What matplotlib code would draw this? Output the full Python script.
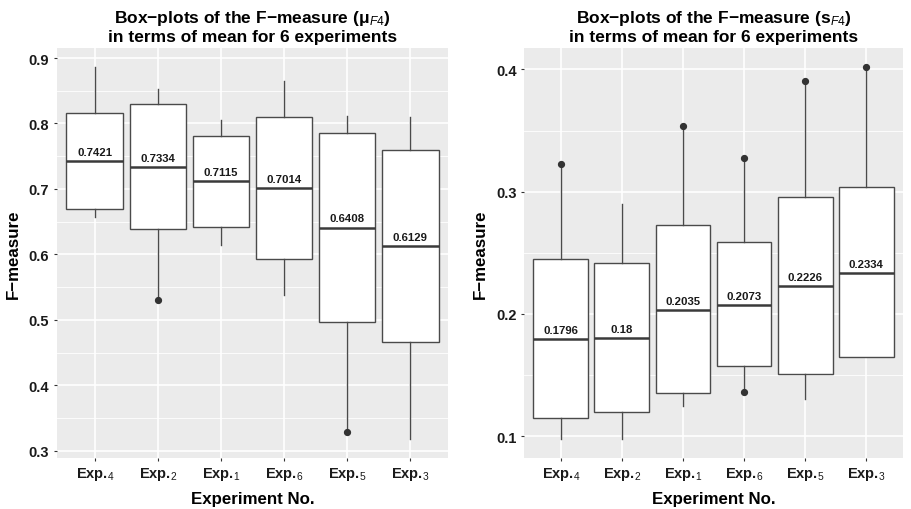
import numpy as np
import matplotlib.pyplot as plt

plt.rcParams['font.family'] = ['Liberation Sans', 'DejaVu Sans']
plt.rcParams['mathtext.fontset'] = 'custom'
plt.rcParams['mathtext.rm'] = 'Liberation Sans'
plt.rcParams['mathtext.it'] = 'Liberation Sans:italic'
plt.rcParams['mathtext.bf'] = 'Liberation Sans:bold'

exps = ['4', '2', '1', '6', '5', '3']

# left panel: mean F-measure
mu_whislo = [0.657, 0.530, 0.6145, 0.538, 0.3285, 0.318]
mu_q1     = [0.6695, 0.638, 0.642, 0.593, 0.4965, 0.4656]
mu_med    = [0.7421, 0.7334, 0.7115, 0.7014, 0.6408, 0.6129]
mu_q3     = [0.816, 0.830, 0.7814, 0.8095, 0.786, 0.760]
mu_whishi = [0.886, 0.853, 0.805, 0.865, 0.811, 0.8095]
mu_dots   = [[], [0.530], [], [], [0.3285], []]
mu_labels = ['0.7421', '0.7334', '0.7115', '0.7014', '0.6408', '0.6129']

# right panel: sd F-measure
s_whislo = [0.0978, 0.098, 0.125, 0.1365, 0.1305, 0.1648]
s_q1     = [0.115, 0.1196, 0.1357, 0.1572, 0.1512, 0.1648]
s_med    = [0.1796, 0.18, 0.2035, 0.2073, 0.2226, 0.2334]
s_q3     = [0.2452, 0.2414, 0.2725, 0.2589, 0.2954, 0.3036]
s_whishi = [0.3229, 0.290, 0.3535, 0.3273, 0.3903, 0.402]
s_dots   = [[0.3229], [], [0.3535], [0.3273, 0.1365], [0.3903], [0.402]]
s_labels = ['0.1796', '0.18', '0.2035', '0.2073', '0.2226', '0.2334']

fig = plt.figure(figsize=(9.12, 5.1), dpi=100)
ax1 = fig.add_axes([0.0625, 0.1006, 0.4287, 0.8033])
ax2 = fig.add_axes([0.5749, 0.1006, 0.4149, 0.8033])


def panel(ax, lo, q1, med, q3, hi, dots, labels, ylim, major, minor, sub):
    stats = []
    for i in range(len(exps)):
        stats.append(dict(med=med[i], q1=q1[i], q3=q3[i], whislo=lo[i], whishi=hi[i], fliers=dots[i]))
    pos = np.arange(1, len(exps) + 1)
    ax.set_facecolor('#EBEBEB')
    for y in minor:
        ax.axhline(y, color='white', lw=0.6, zorder=0)
    ax.set_axisbelow(True)
    ax.grid(True, which='major', color='white', lw=1.2)
    ax.bxp(stats, positions=pos, widths=0.9, showcaps=False, patch_artist=True,
           boxprops=dict(facecolor='white', edgecolor='#4a4a4a', lw=1.0),
           whiskerprops=dict(color='#4a4a4a', lw=1.0),
           medianprops=dict(color='#3a3a3a', lw=1.8),
           flierprops=dict(marker='o', markersize=4.2, markerfacecolor='#333333',
                           markeredgecolor='#333333'))
    for i in range(len(exps)):
        ax.annotate(labels[i], (pos[i], med[i]), xytext=(0, 3), textcoords='offset points',
                    ha='center', va='bottom', fontsize=8.2, fontweight='bold', color='#1a1a1a')
    ax.set_xlim(0.4, len(exps) + 0.6)
    ax.set_ylim(*ylim)
    ax.set_yticks(major)
    ax.set_yticklabels([f'{v:g}' for v in major])
    ax.set_xticks(pos)
    ax.set_xticklabels([f'Exp.$_{{{e}}}$' for e in exps])
    for sp in ax.spines.values():
        sp.set_visible(False)
    ax.tick_params(length=2.5, color='#333333', labelsize=10.5, labelcolor='#1a1a1a', pad=3)
    for t in ax.get_xticklabels() + ax.get_yticklabels():
        t.set_fontweight('bold')
    ax.set_xlabel('Experiment No.', fontsize=12.2, fontweight='bold', labelpad=6)
    ax.set_ylabel('F\u2212measure', fontsize=12.2, fontweight='bold', labelpad=6)
    ax.set_title('Box\u2212plots of the F\u2212measure (' + sub + ')\nin terms of mean for 6 experiments',
                 fontsize=12.5, fontweight='bold', pad=5, linespacing=1.15)


panel(ax1, mu_whislo, mu_q1, mu_med, mu_q3, mu_whishi, mu_dots, mu_labels,
      (0.2893, 0.9153), [0.3, 0.4, 0.5, 0.6, 0.7, 0.8, 0.9],
      [0.35, 0.45, 0.55, 0.65, 0.75, 0.85], '\u03bc$_{F4}$')
panel(ax2, s_whislo, s_q1, s_med, s_q3, s_whishi, s_dots, s_labels,
      (0.0825, 0.4175), [0.1, 0.2, 0.3, 0.4],
      [0.15, 0.25, 0.35], 's$_{F4}$')

fig.savefig('out.png', dpi=100)
